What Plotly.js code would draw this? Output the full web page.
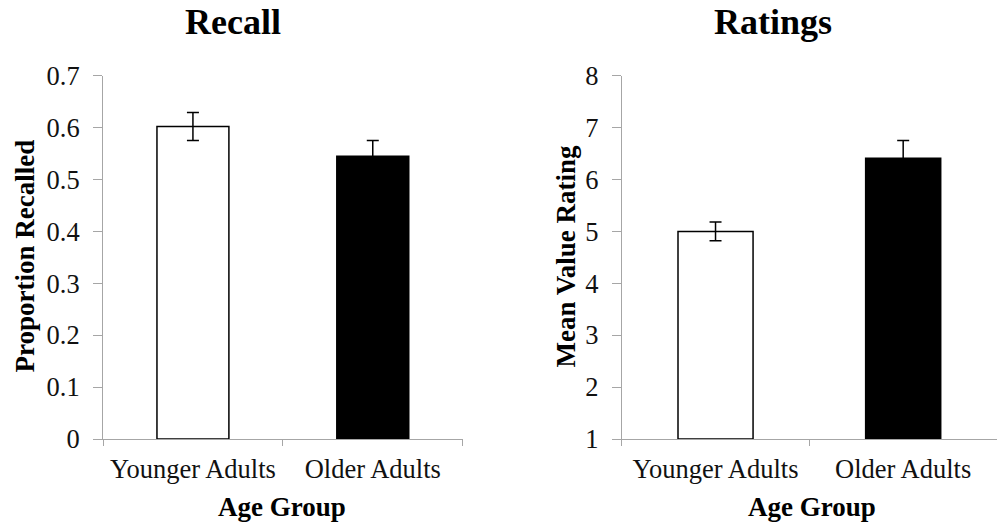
<!DOCTYPE html>
<html>
<head>
<meta charset="utf-8">
<script src="https://cdn.plot.ly/plotly-3.0.1.min.js"></script>
<style>html,body{margin:0;padding:0;background:#fff;}#chart{width:997px;height:529px;}</style>
</head>
<body>
<div id="chart"></div>
<script>
// Data
const groups = ["Younger Adults", "Older Adults"];
const recallMeans = [0.602, 0.545];
const recallErrors = [0.027, 0.030];
const ratingMeans = [5.00, 6.41];
const ratingErrors = [0.18, 0.34];
const ratingBase = 1;
const barColors = ["#ffffff", "#000000"];

const FONT = "Liberation Serif, Times New Roman, serif";
const W = 997, H = 529;
const px = v => v / W;
const py = v => 1 - v / H;

const errStyle = (arr) => ({type: "data", array: arr, visible: true, color: "#000", thickness: 1.5, width: 6});

const traces = [
  {type: "bar", x: groups, y: recallMeans, xaxis: "x", yaxis: "y", width: 0.4,
   marker: {color: barColors, line: {color: "#000", width: 1.5}},
   error_y: errStyle(recallErrors), hoverinfo: "x+y"},
  {type: "bar", x: groups, y: ratingMeans.map(v => v - ratingBase), base: ratingBase,
   xaxis: "x2", yaxis: "y2", width: 0.4,
   marker: {color: barColors, line: {color: "#000", width: 1.5}},
   error_y: errStyle(ratingErrors), hoverinfo: "x+y"}
];

const axisCommon = {
  showgrid: false, zeroline: false, showline: true, linecolor: "#a6a6a6", linewidth: 1,
  ticks: "outside", tickcolor: "#a6a6a6", tickwidth: 1,
  tickfont: {family: FONT, size: 26.5, color: "#111"}, fixedrange: true
};

const layout = {
  width: W, height: H,
  margin: {l: 0, r: 0, t: 0, b: 0},
  paper_bgcolor: "#fff", plot_bgcolor: "#fff",
  showlegend: false,
  xaxis: Object.assign({}, axisCommon, {domain: [px(103), px(462.7)], type: "category",
    tickson: "boundaries", ticklen: 6, range: [-0.5, 1.5], anchor: "y", ticklabelstandoff: 6}),
  yaxis: Object.assign({}, axisCommon, {domain: [py(439), py(75.7)], range: [0, 0.7], dtick: 0.1,
    tick0: 0, ticklen: 9, anchor: "x", ticklabelstandoff: 8}),
  xaxis2: Object.assign({}, axisCommon, {domain: [px(621.7), 1], type: "category",
    tickson: "boundaries", ticklen: 6, range: [-0.5, 1.5], anchor: "y2", ticklabelstandoff: 6}),
  yaxis2: Object.assign({}, axisCommon, {domain: [py(439), py(75.7)], range: [1, 8], dtick: 1,
    tick0: 1, ticklen: 9, anchor: "x2", ticklabelstandoff: 8}),
  annotations: [
    {text: "Recall", xref: "paper", yref: "paper", x: px(232.5), y: py(22), xanchor: "center", yanchor: "middle",
     showarrow: false, font: {family: FONT, size: 36, color: "#000", weight: "bold"}},
    {text: "Ratings", xref: "paper", yref: "paper", x: px(772.5), y: py(22), xanchor: "center", yanchor: "middle",
     showarrow: false, font: {family: FONT, size: 36, color: "#000", weight: "bold"}},
    {text: "Proportion Recalled", xref: "paper", yref: "paper", x: px(24), y: py(256.5), textangle: -90,
     xanchor: "center", yanchor: "middle", showarrow: false, font: {family: FONT, size: 27, color: "#000", weight: "bold"}},
    {text: "Mean Value Rating", xref: "paper", yref: "paper", x: px(565), y: py(256.5), textangle: -90,
     xanchor: "center", yanchor: "middle", showarrow: false, font: {family: FONT, size: 27, color: "#000", weight: "bold"}},
    {text: "Age Group", xref: "paper", yref: "paper", x: px(282), y: py(507), xanchor: "center", yanchor: "middle",
     showarrow: false, font: {family: FONT, size: 27, color: "#000", weight: "bold"}},
    {text: "Age Group", xref: "paper", yref: "paper", x: px(811.5), y: py(507), xanchor: "center", yanchor: "middle",
     showarrow: false, font: {family: FONT, size: 27, color: "#000", weight: "bold"}}
  ]
};

Plotly.newPlot("chart", traces, layout, {displayModeBar: false, staticPlot: true});
</script>
</body>
</html>
